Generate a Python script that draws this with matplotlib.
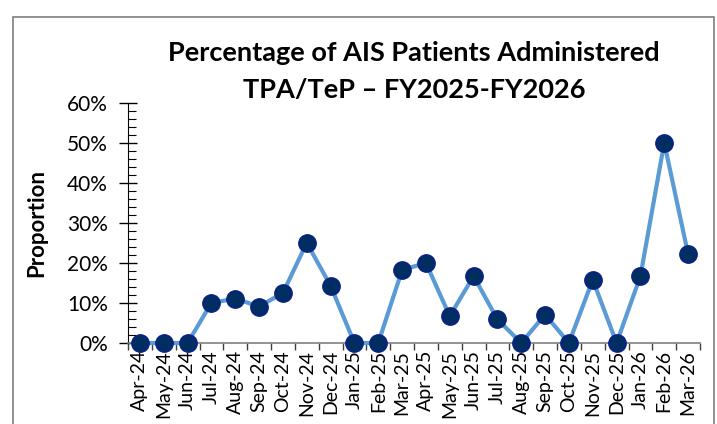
import numpy as np
import matplotlib
matplotlib.use("Agg")
import matplotlib.pyplot as plt
from matplotlib.patches import Rectangle
from matplotlib.ticker import PercentFormatter, MultipleLocator

months = ["Apr-24", "May-24", "Jun-24", "Jul-24", "Aug-24", "Sep-24", "Oct-24", "Nov-24",
          "Dec-24", "Jan-25", "Feb-25", "Mar-25", "Apr-25", "May-25", "Jun-25", "Jul-25",
          "Aug-25", "Sep-25", "Oct-25", "Nov-25", "Dec-25", "Jan-26", "Feb-26", "Mar-26"]
proportion = [0.0, 0.0, 0.0, 0.100, 0.111, 0.091, 0.125, 0.250,
              0.143, 0.0, 0.0, 0.182, 0.200, 0.067, 0.167, 0.059,
              0.0, 0.071, 0.0, 0.158, 0.0, 0.167, 0.500, 0.222]

plt.rcParams['font.family'] = ['Lato', 'DejaVu Sans']

W, H = 717, 424
fig = plt.figure(figsize=(W / 100, H / 100), dpi=100)
ax = fig.add_axes([128 / W, 1 - 343 / H, (700 - 128) / W, (343 - 102.7) / H])

x = np.arange(len(months))
ax.plot(x, proportion, color="#5B9BD5", lw=3, marker="o", ms=12.5,
        mfc="#002E63", mec="#0A1E8C", mew=1.0, zorder=3, clip_on=False)

ax.set_xlim(-0.5, len(months) - 0.5)
ax.set_ylim(0, 0.6)
ax.yaxis.set_major_locator(MultipleLocator(0.1))
ax.yaxis.set_minor_locator(MultipleLocator(0.02))
ax.yaxis.set_major_formatter(PercentFormatter(1.0, decimals=0))
ax.tick_params(axis="y", which="major", direction="inout", length=13, width=1,
               labelsize=15, pad=8)
ax.tick_params(axis="y", which="minor", direction="in", length=6, width=0.8)

ax.set_xticks(x)
ax.set_xticklabels(months, rotation=90, fontsize=14)
ax.set_xticks(np.arange(-0.5, len(months)), minor=True)
ax.tick_params(axis="x", which="major", length=0, pad=5)
ax.tick_params(axis="x", which="minor", direction="out", length=5, width=1, color="#404040")

for s in ["top", "right"]:
    ax.spines[s].set_visible(False)
ax.spines["left"].set_color("black")
ax.spines["bottom"].set_color("#808080")
ax.spines["bottom"].set_linewidth(1.2)

ax.set_ylabel("Proportion", fontsize=16, fontweight="bold", labelpad=14)
fig.text(414 / W, 1 - 53 / H, "Percentage of AIS Patients Administered", ha="center", va="center",
         fontsize=19.5, fontweight="bold")
fig.text(414 / W, 1 - 90 / H, "TPA/TeP \u2013 FY2025-FY2026", ha="center", va="center",
         fontsize=19.5, fontweight="bold")

fig.patches.append(Rectangle((12.7 / W, -0.1), (714 - 12.7) / W, 1.1 - 17 / H,
                             transform=fig.transFigure, fill=False, ec="#7F7F7F", lw=1.2))

fig.savefig("out.png", dpi=100)
